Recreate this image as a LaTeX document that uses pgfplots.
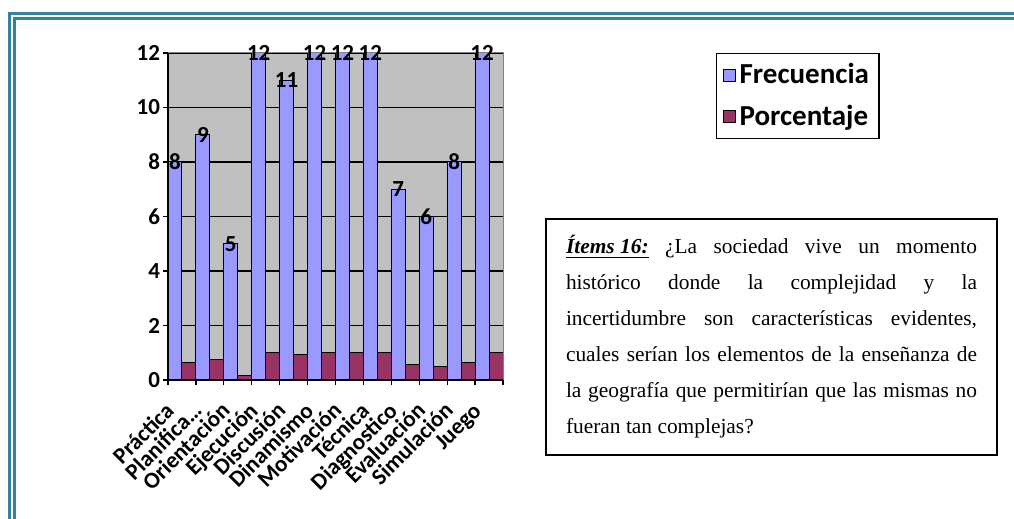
\documentclass[border=0pt]{standalone}
\usepackage{pgfplots}
\pgfplotsset{compat=1.18}
\usepackage{fontspec}
\setmainfont{Liberation Serif}
\newfontfamily\chartfont{Carlito}
\definecolor{framec}{HTML}{31849B}
\definecolor{frec}{HTML}{9999FF}
\definecolor{porc}{HTML}{993366}
\definecolor{plotbg}{HTML}{C0C0C0}

\begin{document}
\begin{tikzpicture}
% page frame (double teal line on top and left)
\draw[framec, line width=1.25pt] (4.75pt,0pt) -- (4.75pt,252.75pt) -- (507pt,252.75pt);
\draw[framec, line width=1.3pt] (7.35pt,0pt) -- (7.35pt,250.15pt) -- (507pt,250.15pt);

\begin{axis}[
  at={(84pt,69.5pt)}, anchor=south west,
  scale only axis, width=167.5pt, height=163.5pt,
  xmin=0, xmax=12, ymin=0, ymax=12,
  clip=false,
  axis background/.style={fill=plotbg},
  axis line style={draw=none},
  ymajorgrids, grid style={black, line width=0.6pt},
  /pgf/number format/assume math mode=true,
  % visible ticks are the minor ones (category borders / y steps)
  tick align=outside, tick pos=left,
  major tick length=0pt, minor tick length=2.5pt,
  tick style={black, line width=0.6pt},
  ytick={0,2,...,12}, minor ytick={0,2,...,12},
  yticklabel style={font=\chartfont\bfseries\fontsize{11.5}{13}\selectfont, xshift=-0.5pt},
  xtick={0.5,1.5,...,11.5}, minor xtick={0,...,12},
  xticklabels={Práctica, Planifica…, Orientación, Ejecución, Discusión,
    Dinamismo, Motivación, Técnica, Diagnostico, Evaluación, Simulación, Juego},
  xticklabel style={xshift=-3.2pt, yshift=-16pt, rotate=45, anchor=base east,
    inner sep=0pt, font=\chartfont\bfseries\fontsize{11.5}{13}\selectfont},
  legend style={at={(1.636,1)}, anchor=north west, draw=black, line width=0.6pt,
    font=\chartfont\bfseries\fontsize{14.5}{17}\selectfont, row sep=5pt,
    inner sep=3pt, cells={anchor=west}},
  legend image code/.code={\draw[#1, draw=black, line width=0.5pt] (0pt,-3pt) rectangle (6pt,3pt);},
]
\addplot[ybar, bar width=0.5, bar shift=0pt, fill=frec, draw=black, line width=0.5pt,
  nodes near coords,
  every node near coord/.append style={anchor=center, black,
    font=\chartfont\bfseries\fontsize{11.5}{13}\selectfont}]
  coordinates {(0.25,8)(1.25,9)(2.25,5)(3.25,12)(4.25,11)(5.25,12)
               (6.25,12)(7.25,12)(8.25,7)(9.25,6)(10.25,8)(11.25,12)};
\addplot[ybar, bar width=0.5, bar shift=0pt, fill=porc, draw=black, line width=0.5pt]
  coordinates {(0.75,0.65)(1.75,0.75)(2.75,0.15)(3.75,1)(4.75,0.95)(5.75,1)
               (6.75,1)(7.75,1)(8.75,0.58)(9.75,0.5)(10.75,0.65)(11.75,1)};
\legend{Frecuencia, Porcentaje}
% plot area border: thin gray top/right, black left/bottom
\draw[line width=0.5pt, color=gray] (rel axis cs:0,1) -- (rel axis cs:1,1) -- (rel axis cs:1,0);
\draw[line width=1pt, black] (rel axis cs:0,1) -- (rel axis cs:0,0) -- (rel axis cs:1,0);
\end{axis}

% question box
\node[draw=black, line width=1pt, anchor=north west, inner xsep=10pt, inner ysep=5pt,
  minimum height=118pt,
  text width=205.5pt, align=justify, font=\fontsize{10.7}{18}\selectfont]
  at (272.5pt,150.5pt)
  {\underline{\textbf{\textit{Ítems 16:}}} ¿La sociedad vive un momento\linebreak
   histórico donde la complejidad y la\linebreak
   incertidumbre son características evidentes,\linebreak
   cuales serían los elementos de la enseñanza de\linebreak
   la geografía que permitirían que las mismas no\linebreak
   fueran tan complejas?};

\pgfresetboundingbox
\path[use as bounding box] (0pt,0pt) rectangle (507pt,259.5pt);
\end{tikzpicture}
\end{document}
